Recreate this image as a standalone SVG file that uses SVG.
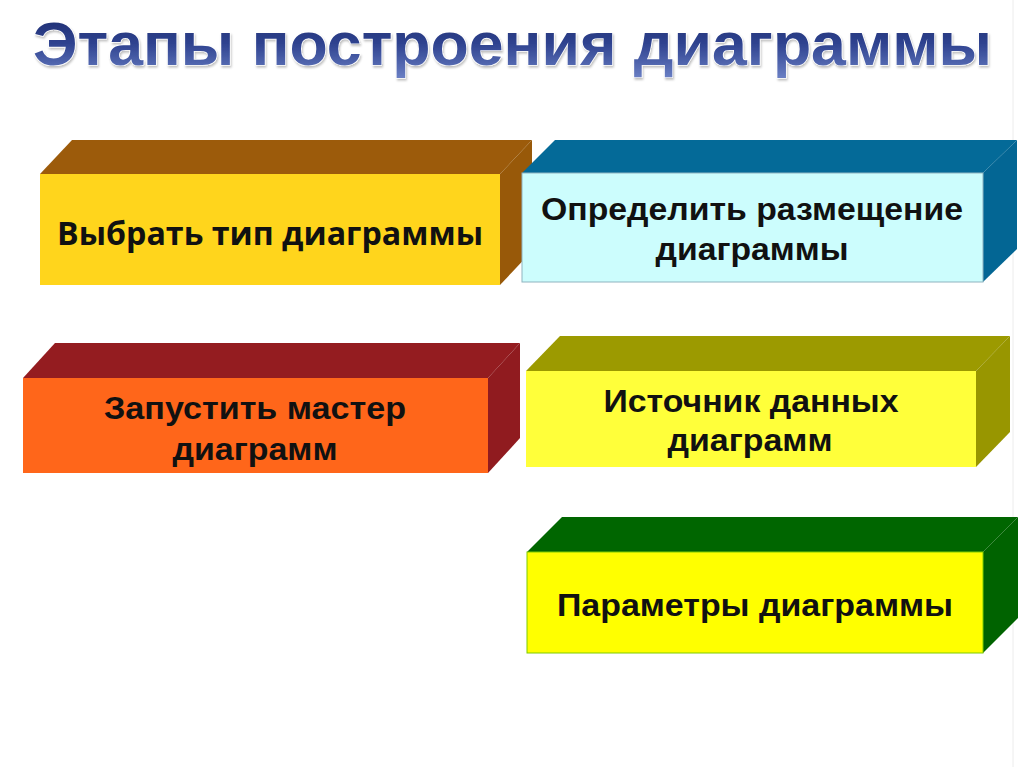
<svg xmlns="http://www.w3.org/2000/svg" width="1024" height="767" viewBox="0 0 1024 767">
<defs>
<linearGradient id="tg" x1="0" y1="0" x2="0" y2="1">
<stop offset="0" stop-color="#1c2a6b"/>
<stop offset="0.5" stop-color="#2f4390"/>
<stop offset="1" stop-color="#6a7fc4"/>
</linearGradient>
<filter id="sh" x="-5%" y="-20%" width="110%" height="150%">
<feGaussianBlur in="SourceAlpha" stdDeviation="1.2"/>
<feOffset dx="1" dy="2" result="b"/>
<feFlood flood-color="#000" flood-opacity="0.25"/>
<feComposite in2="b" operator="in"/>
<feMerge><feMergeNode/><feMergeNode in="SourceGraphic"/></feMerge>
</filter>
</defs>
<style>
.lbl{font-family:"Liberation Sans",Arial,sans-serif;font-weight:bold;font-size:32px;fill:#111;text-anchor:middle}
.cal{font-family:"Open Sans","Noto Sans",sans-serif;font-weight:bold;font-size:32px;fill:#111;text-anchor:middle}
.title{font-family:"Liberation Sans",Arial,sans-serif;font-weight:bold;font-size:61px;fill:url(#tg);stroke:#fff;stroke-width:1.2;paint-order:stroke}
</style>
<rect width="1024" height="767" fill="#fff"/>
<line x1="1013" y1="0" x2="1013" y2="767" stroke="#ececec" stroke-width="1"/>
<text class="title" x="33" y="65" textLength="959" lengthAdjust="spacingAndGlyphs" filter="url(#sh)">Этапы построения диаграммы</text>

<g id="connectors"></g>

<g id="node1">
<polygon points="40,174 72,140 532,140 500,174" fill="#9c5b0b"/>
<polygon points="500,174 532,140 532,251 500,285" fill="#985909"/>
<rect x="40" y="174" width="460" height="111" fill="#ffd51c"/>
<text class="cal" x="270" y="245" textLength="426" lengthAdjust="spacingAndGlyphs">Выбрать тип диаграммы</text>
</g>

<g id="node2">
<polygon points="522,173 555,140 1017,140 983,173" fill="#046a98"/>
<polygon points="983,173 1017,140 1017,249 983,282" fill="#036694"/>
<rect x="522" y="173" width="461" height="109" fill="#ccfdfd" stroke="#8fb3bf" stroke-width="1"/>
<text class="lbl" x="752" y="220" textLength="422" lengthAdjust="spacingAndGlyphs">Определить размещение</text>
<text class="lbl" x="752" y="260" textLength="193" lengthAdjust="spacingAndGlyphs">диаграммы</text>
</g>

<g id="node3">
<polygon points="23,378 55,343 520,343 488,378" fill="#941c20"/>
<polygon points="488,378 520,343 520,438 488,473" fill="#901b1f"/>
<rect x="23" y="378" width="465" height="95" fill="#ff661a"/>
<text class="lbl" x="255" y="419" textLength="302" lengthAdjust="spacingAndGlyphs">Запустить мастер</text>
<text class="lbl" x="255" y="460" textLength="165" lengthAdjust="spacingAndGlyphs">диаграмм</text>
</g>

<g id="node4">
<polygon points="526,371 560,336 1010,336 976,371" fill="#9c9a00"/>
<polygon points="976,371 1010,336 1010,432 976,467" fill="#989600"/>
<rect x="526" y="371" width="450" height="96" fill="#ffff3a"/>
<text class="lbl" x="751" y="412" textLength="295" lengthAdjust="spacingAndGlyphs">Источник данных</text>
<text class="lbl" x="750" y="451" textLength="165" lengthAdjust="spacingAndGlyphs">диаграмм</text>
</g>

<g id="node5">
<polygon points="527,552 562,517 1018,517 983,552" fill="#006600"/>
<polygon points="983,552 1018,517 1018,618 983,653" fill="#006300"/>
<rect x="527" y="552" width="456" height="101" fill="#ffff00" stroke="#7fcc00" stroke-width="1"/>
<text class="lbl" x="755" y="616" textLength="396" lengthAdjust="spacingAndGlyphs">Параметры диаграммы</text>
</g>
</svg>
